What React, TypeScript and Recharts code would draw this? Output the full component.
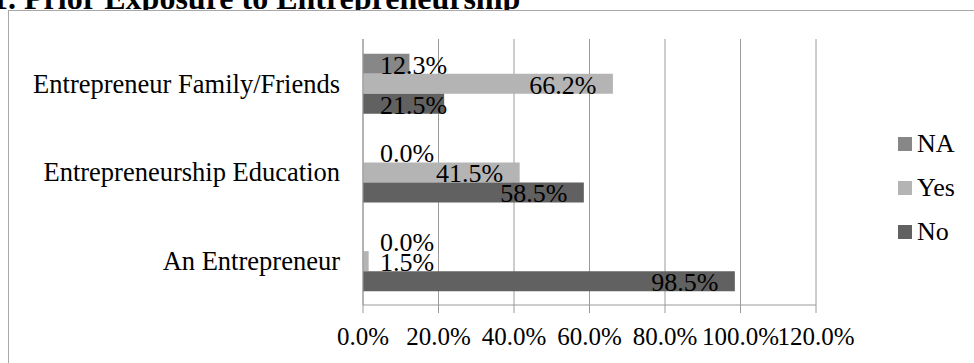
import { BarChart, Bar, XAxis, YAxis, CartesianGrid, Legend, LabelList } from "recharts";

const CATEGORIES = ["Entrepreneur Family/Friends", "Entrepreneurship Education", "An Entrepreneur"];
const NA_VALUES = [12.3, 0.0, 0.0];
const YES_VALUES = [66.2, 41.5, 1.5];
const NO_VALUES = [21.5, 58.5, 98.5];
const X_TICKS = [0, 20, 40, 60, 80, 100, 120];
// band boundaries for the category axis tick marks
const EDGE_TICKS = [0, 1, 2, 3];

const SERIES = [
  { key: "NA", color: "#878787" },
  { key: "Yes", color: "#b4b4b4" },
  { key: "No", color: "#616161" },
];

const data = CATEGORIES.map((name, i) => ({
  name,
  NA: NA_VALUES[i],
  Yes: YES_VALUES[i],
  No: NO_VALUES[i],
}));

const FONT = '"Liberation Serif", "Times New Roman", serif';
const AXIS = "#9a9a9a";
const pct = (v: number) => `${v.toFixed(1)}%`;

// rough Times widths, em units
const CHAR_W: Record<string, number> = { ".": 0.25, "%": 0.833 };
const textWidth = (s: string, size: number) =>
  s.split("").reduce((w, c) => w + (CHAR_W[c] ?? 0.5), 0) * size;

const renderValue = (props: any) => {
  const { x, y, width, height, value } = props;
  const label = pct(Number(value));
  const w = textWidth(label, 26);
  const end = Math.max(Number(x) + Number(width) - 16.5, Number(x) + 17 + w);
  return (
    <text
      x={end}
      y={Number(y) + Number(height) / 2 + 10}
      textAnchor="end"
      fontSize={26}
      fontFamily={FONT}
      fill="#000"
    >
      {label}
    </text>
  );
};

const renderLegend = (props: any) => {
  const items = [...(props.payload ?? [])].sort(
    (a: any, b: any) =>
      SERIES.findIndex((s) => s.key === a.value) - SERIES.findIndex((s) => s.key === b.value)
  );
  return (
    <div>
      {items.map((p: any) => (
        <div key={p.value} style={{ height: 44, display: "flex", alignItems: "center" }}>
          <span style={{ width: 14, height: 14, background: p.color, marginRight: 5, display: "inline-block" }} />
          <span style={{ fontSize: 26, lineHeight: 1, color: "#000", fontFamily: FONT }}>{p.value}</span>
        </div>
      ))}
    </div>
  );
};

export default function App() {
  return (
    <div style={{ position: "fixed", left: 0, top: 0, width: 974, height: 363, overflow: "hidden", fontFamily: FONT, background: "#fff" }}>
      <div style={{ position: "absolute", left: -8, top: -18, fontSize: 32, lineHeight: "32px", fontWeight: "bold", whiteSpace: "nowrap" }}>
        1. Prior Exposure to Entrepreneurship
      </div>
      <div style={{ position: "absolute", left: 8, top: 10, width: 1000, height: 400, border: "1.5px solid #a8a8a8", background: "#fff" }} />
      <div style={{ position: "absolute", left: 0, top: 0 }}>
        <BarChart
          width={974}
          height={363}
          data={data}
          layout="vertical"
          margin={{ top: 39, right: 158, bottom: 0, left: 0 }}
          barCategoryGap={14.8}
          barGap={0}
        >
          <CartesianGrid horizontal={false} stroke={AXIS} />
          <XAxis
            type="number"
            domain={[0, 120]}
            ticks={X_TICKS}
            interval={0}
            height={58}
            tickFormatter={pct}
            tickSize={8}
            tickMargin={14}
            stroke={AXIS}
            tick={{ fontSize: 25, fill: "#000", fontFamily: FONT }}
          />
          <YAxis
            yAxisId="edge"
            type="number"
            domain={[0, 3]}
            ticks={EDGE_TICKS}
            width={0}
            tick={false}
            tickSize={8}
            axisLine={false}
            stroke={AXIS}
          />
          <YAxis
            dataKey="name"
            type="category"
            width={363}
            tickLine={false}
            tickSize={8}
            tickMargin={15}
            stroke={AXIS}
            tick={{ fontSize: 26.5, fill: "#000", fontFamily: FONT }}
          />
          <Legend
            layout="vertical"
            align="center"
            verticalAlign="middle"
            content={renderLegend}
            wrapperStyle={{ left: 898, top: 122, width: 70 }}
          />
          {SERIES.map((s) => (
            <Bar
              key={s.key}
              dataKey={s.key}
              name={s.key}
              fill={s.color}
              minPointSize={0.01}
              isAnimationActive={false}
            >
              <LabelList dataKey={s.key} content={renderValue} />
            </Bar>
          ))}
        </BarChart>
      </div>
    </div>
  );
}
